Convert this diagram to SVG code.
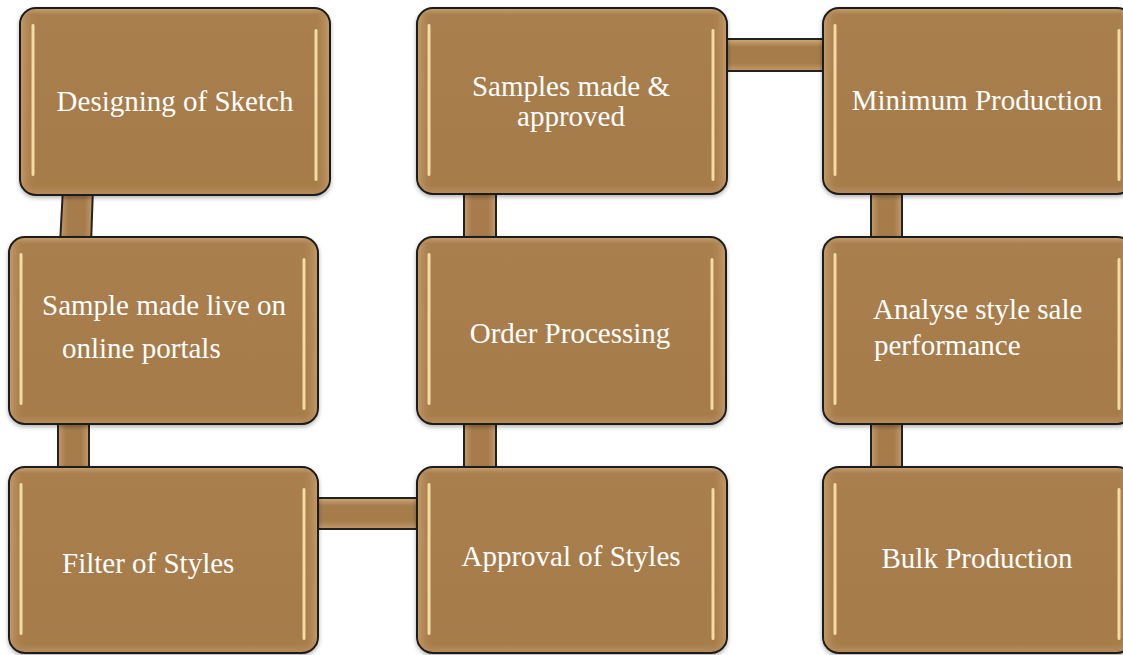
<svg xmlns="http://www.w3.org/2000/svg" width="1123" height="655" viewBox="0 0 1123 655">
<defs>
<linearGradient id="boxFill" x1="0" y1="0" x2="0" y2="1">
<stop offset="0" stop-color="#C9A272"/>
<stop offset="0.035" stop-color="#A97F4E"/>
<stop offset="0.95" stop-color="#A67B4A"/>
<stop offset="1" stop-color="#B88E5E"/>
</linearGradient>
<linearGradient id="sideFade" x1="0" y1="0" x2="1" y2="0">
<stop offset="0" stop-color="#D6B07C" stop-opacity="0.55"/>
<stop offset="0.05" stop-color="#A67B4A" stop-opacity="0"/>
<stop offset="0.95" stop-color="#A67B4A" stop-opacity="0"/>
<stop offset="1" stop-color="#D6B07C" stop-opacity="0.55"/>
</linearGradient>
<linearGradient id="bar" x1="0" y1="0" x2="1" y2="0">
<stop offset="0" stop-color="#C39452"/>
<stop offset="0.5" stop-color="#FFF3C6"/>
<stop offset="1" stop-color="#C39452"/>
</linearGradient>
<linearGradient id="hconn" x1="0" y1="0" x2="0" y2="1">
<stop offset="0" stop-color="#D0AA7A"/>
<stop offset="0.25" stop-color="#A67C4B"/>
<stop offset="0.75" stop-color="#A67C4B"/>
<stop offset="1" stop-color="#C49A6A"/>
</linearGradient>
<linearGradient id="vconn" x1="0" y1="0" x2="1" y2="0">
<stop offset="0" stop-color="#C49A6A"/>
<stop offset="0.25" stop-color="#A67C4B"/>
<stop offset="0.75" stop-color="#A67C4B"/>
<stop offset="1" stop-color="#C49A6A"/>
</linearGradient>
<filter id="shadow" x="-5%" y="-5%" width="110%" height="115%">
<feDropShadow dx="0" dy="2" stdDeviation="2" flood-color="#000" flood-opacity="0.3"/>
</filter>
</defs>
<style>
.box{fill:url(#boxFill);stroke:#1c1c1c;stroke-width:2;filter:url(#shadow)}
.side{fill:url(#sideFade);stroke:none}
.bar{fill:url(#bar)}
.hc{fill:url(#hconn);stroke:#222;stroke-width:2}
.vc{fill:url(#vconn);stroke:#222;stroke-width:2}
.t{font-family:"Liberation Serif","Times New Roman",serif;font-size:29px;fill:#ffffff}
.c{text-anchor:middle}
</style>
<rect width="1123" height="655" fill="#ffffff"/>
<g id="connectors">
<polygon class="vc" points="63,188 93,188 91,244 60,244"/>
<rect class="vc" x="58" y="418" width="31" height="55"/>
<rect class="vc" x="464" y="188" width="32" height="55"/>
<rect class="vc" x="464" y="418" width="32" height="55"/>
<rect class="vc" x="871" y="188" width="31" height="55"/>
<rect class="vc" x="871" y="418" width="31" height="55"/>
<rect class="hc" x="312" y="498" width="111" height="31"/>
<rect class="hc" x="721" y="39" width="108" height="32"/>
</g>
<g id="n1">
<rect class="box" x="20" y="8" width="310" height="187" rx="16"/>
<rect class="side" x="21" y="9" width="308" height="185" rx="15"/>
<rect class="bar" x="31" y="24" width="4" height="152" rx="2"/>
<rect class="bar" x="314" y="29" width="4" height="152" rx="2"/>
<text class="t c" x="175" y="111">Designing of Sketch</text>
</g>
<g id="n2">
<rect class="box" x="9" y="237" width="309" height="187" rx="16"/>
<rect class="side" x="10" y="238" width="307" height="185" rx="15"/>
<rect class="bar" x="19" y="253" width="4" height="152" rx="2"/>
<rect class="bar" x="302" y="258" width="4" height="152" rx="2"/>
<text class="t" x="42" y="315">Sample made live on</text>
<text class="t" x="62" y="358">online portals</text>
</g>
<g id="n3">
<rect class="box" x="9" y="467" width="309" height="186" rx="16"/>
<rect class="side" x="10" y="468" width="307" height="184" rx="15"/>
<rect class="bar" x="19" y="483" width="4" height="152" rx="2"/>
<rect class="bar" x="302" y="488" width="4" height="152" rx="2"/>
<text class="t" x="62" y="573">Filter of Styles</text>
</g>
<g id="n4">
<rect class="box" x="417" y="8" width="310" height="186" rx="16"/>
<rect class="side" x="418" y="9" width="308" height="184" rx="15"/>
<rect class="bar" x="427" y="24" width="4" height="152" rx="2"/>
<rect class="bar" x="711" y="29" width="4" height="152" rx="2"/>
<text class="t c" x="571" y="96">Samples made &amp;</text>
<text class="t c" x="571" y="126">approved</text>
</g>
<g id="n5">
<rect class="box" x="417" y="237" width="309" height="187" rx="16"/>
<rect class="side" x="418" y="238" width="307" height="185" rx="15"/>
<rect class="bar" x="427" y="253" width="4" height="152" rx="2"/>
<rect class="bar" x="710" y="258" width="4" height="152" rx="2"/>
<text class="t c" x="570" y="343">Order Processing</text>
</g>
<g id="n6">
<rect class="box" x="417" y="467" width="310" height="186" rx="16"/>
<rect class="side" x="418" y="468" width="308" height="184" rx="15"/>
<rect class="bar" x="427" y="483" width="4" height="152" rx="2"/>
<rect class="bar" x="711" y="488" width="4" height="152" rx="2"/>
<text class="t c" x="571" y="566">Approval of Styles</text>
</g>
<g id="n7">
<rect class="box" x="823" y="8" width="310" height="186" rx="16"/>
<rect class="side" x="824" y="9" width="308" height="184" rx="15"/>
<rect class="bar" x="833" y="24" width="4" height="152" rx="2"/>
<rect class="bar" x="1117" y="29" width="4" height="152" rx="2"/>
<text class="t c" x="977" y="110">Minimum Production</text>
</g>
<g id="n8">
<rect class="box" x="823" y="237" width="310" height="187" rx="16"/>
<rect class="side" x="824" y="238" width="308" height="185" rx="15"/>
<rect class="bar" x="833" y="253" width="4" height="152" rx="2"/>
<rect class="bar" x="1117" y="258" width="4" height="152" rx="2"/>
<text class="t" x="873" y="319">Analyse style sale</text>
<text class="t" x="874" y="355">performance</text>
</g>
<g id="n9">
<rect class="box" x="823" y="467" width="310" height="186" rx="16"/>
<rect class="side" x="824" y="468" width="308" height="184" rx="15"/>
<rect class="bar" x="833" y="483" width="4" height="152" rx="2"/>
<rect class="bar" x="1117" y="488" width="4" height="152" rx="2"/>
<text class="t c" x="977" y="568">Bulk Production</text>
</g>
</svg>
